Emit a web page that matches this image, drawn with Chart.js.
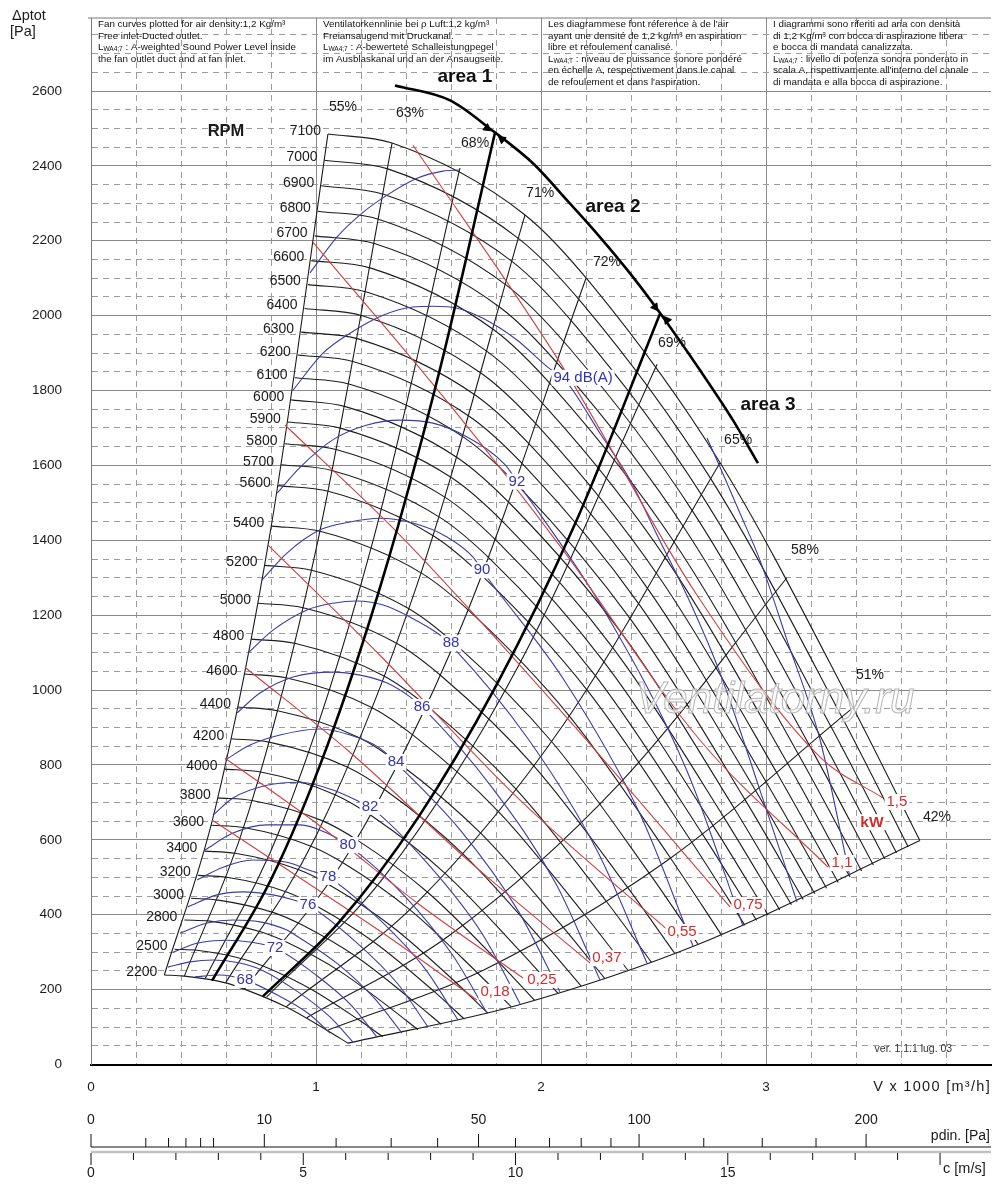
<!DOCTYPE html>
<html lang="en">
<head>
<meta charset="utf-8">
<title>Fan curves</title>
<script src="https://cdn.jsdelivr.net/npm/chart.js@4.4.1/dist/chart.umd.min.js"></script>
<style>
  html, body { margin: 0; padding: 0; background: #fff; }
  canvas { display: block; }
</style>
</head>
<body>
<canvas id="fanChart" width="1000" height="1199"></canvas>
<script>
const FONT = '"Liberation Sans", Arial, Helvetica, sans-serif';

// fan speed curves, points are [V x 1000 m3/h, dp Pa]
const rpmSpeeds = [7100, 7000, 6900, 6800, 6700, 6600, 6500, 6400, 6300, 6200, 6100, 6000, 5900, 5800, 5700, 5600,
  5400, 5200, 5000, 4800, 4600, 4400, 4200, 4000, 3800, 3600, 3400, 3200, 3000, 2800, 2500, 2200];
const rpmCurves = [
  [[1.053,2485],[1.338,2461],[1.929,2269],[2.218,2088],[2.796,1607],[3.387,953],[3.684,598]],
  [[1.038,2415],[1.319,2392],[1.902,2205],[2.187,2030],[2.757,1562],[3.339,926],[3.632,581]],
  [[1.023,2347],[1.300,2324],[1.875,2143],[2.155,1972],[2.717,1518],[3.291,900],[3.580,565]],
  [[1.008,2279],[1.281,2257],[1.847,2081],[2.124,1915],[2.678,1474],[3.244,874],[3.528,549]],
  [[0.994,2213],[1.263,2192],[1.820,2021],[2.093,1859],[2.639,1431],[3.196,849],[3.477,533]],
  [[0.979,2147],[1.244,2127],[1.793,1961],[2.062,1804],[2.599,1389],[3.149,823],[3.425,517]],
  [[0.964,2083],[1.225,2063],[1.766,1902],[2.031,1750],[2.560,1347],[3.101,799],[3.373,501]],
  [[0.949,2019],[1.206,2000],[1.739,1844],[1.999,1697],[2.520,1306],[3.053,774],[3.321,486]],
  [[0.934,1956],[1.187,1938],[1.712,1786],[1.968,1644],[2.481,1265],[3.005,750],[3.269,471]],
  [[0.919,1895],[1.168,1877],[1.684,1730],[1.937,1592],[2.441,1225],[2.958,727],[3.217,456]],
  [[0.905,1834],[1.150,1817],[1.657,1675],[1.906,1541],[2.402,1186],[2.910,704],[3.165,441]],
  [[0.890,1775],[1.131,1757],[1.630,1620],[1.874,1491],[2.363,1148],[2.862,681],[3.113,427]],
  [[0.875,1716],[1.112,1699],[1.603,1567],[1.843,1442],[2.323,1110],[2.815,658],[3.061,413]],
  [[0.860,1658],[1.093,1642],[1.576,1514],[1.812,1393],[2.284,1072],[2.767,636],[3.009,399]],
  [[0.845,1602],[1.074,1586],[1.549,1462],[1.781,1346],[2.245,1036],[2.719,614],[2.958,385]],
  [[0.830,1546],[1.055,1531],[1.521,1412],[1.749,1299],[2.205,1000],[2.671,593],[2.906,372]],
  [[0.801,1438],[1.018,1424],[1.467,1313],[1.687,1208],[2.127,930],[2.576,551],[2.802,346]],
  [[0.771,1333],[0.980,1320],[1.413,1217],[1.624,1120],[2.048,862],[2.481,511],[2.698,321]],
  [[0.742,1232],[0.942,1220],[1.358,1125],[1.562,1035],[1.969,797],[2.385,473],[2.594,297]],
  [[0.712,1136],[0.905,1125],[1.304,1037],[1.500,954],[1.890,735],[2.290,436],[2.491,273]],
  [[0.682,1043],[0.867,1033],[1.250,953],[1.437,877],[1.812,675],[2.194,400],[2.387,251]],
  [[0.653,955],[0.829,945],[1.195,872],[1.374,802],[1.733,617],[2.099,366],[2.283,230]],
  [[0.623,870],[0.791,861],[1.141,794],[1.312,731],[1.654,562],[2.003,333],[2.179,209]],
  [[0.593,789],[0.754,781],[1.087,720],[1.250,663],[1.575,510],[1.908,302],[2.076,190]],
  [[0.564,712],[0.716,705],[1.032,650],[1.187,598],[1.496,460],[1.813,273],[1.972,171]],
  [[0.534,639],[0.678,633],[0.978,583],[1.125,537],[1.418,413],[1.717,245],[1.868,154]],
  [[0.504,570],[0.641,564],[0.924,520],[1.062,479],[1.339,368],[1.622,219],[1.764,137]],
  [[0.475,505],[0.603,500],[0.869,461],[1.000,424],[1.260,326],[1.527,194],[1.660,121]],
  [[0.445,444],[0.565,439],[0.815,405],[0.937,373],[1.181,287],[1.431,170],[1.557,107]],
  [[0.415,386],[0.528,383],[0.761,353],[0.875,325],[1.103,250],[1.336,148],[1.453,93]],
  [[0.371,308],[0.471,305],[0.679,281],[0.781,259],[0.984,199],[1.193,118],[1.297,74]],
  [[0.326,239],[0.415,236],[0.598,218],[0.687,200],[0.866,154],[1.050,91],[1.142,57]]
];

// efficiency lines
const effNames = ['55%', '63%', '68%', '71%', '72%', '69%', '65%', '58%', '51%', '42%'];
const effCurves = [
  [[0.326,239],[0.55,678],[0.80,1434],[1.053,2485]],
  [[0.415,236],[0.70,674],[1.00,1375],[1.338,2461]],
  [[0.508,230],[0.85,643],[1.25,1391],[1.640,2395]],
  [[0.598,218],[1.00,610],[1.45,1283],[1.929,2269]],
  [[0.680,200],[1.15,571],[1.65,1176],[2.200,2100]],
  [[0.780,180],[1.30,499],[1.90,1065],[2.516,1870]],
  [[0.867,154],[1.45,433],[2.10,908],[2.796,1607]],
  [[0.959,125],[1.60,348],[2.35,751],[3.093,1300]],
  [[1.050,91],[1.75,254],[2.55,540],[3.387,953]],
  [[1.142,57],[1.90,159],[2.70,321],[3.684,598]]
];
const effNameAt = [[1.120,2557],[1.418,2541],[1.707,2460],[1.996,2327],[2.293,2143],
  [2.582,1926],[2.876,1667],[3.173,1374],[3.462,1040],[3.760,661]];

// working areas
const areaEdge1 = [[0.538,224],[0.80,494],[1.05,851],[1.30,1305],[1.55,1855],[1.796,2490]];
const areaEdge2 = [[0.764,182],[1.10,378],[1.45,656],[1.80,1011],[2.15,1442],[2.529,2005]];
const areaArc = [[1.351,2615],[1.596,2575],[1.787,2493],[1.964,2407],[2.116,2308],[2.262,2210],
  [2.409,2103],[2.529,2007],[2.707,1854],[2.853,1721],[2.964,1606]];
const arcArrows = [[1.760,2501],[1.827,2471],[2.507,2023],[2.560,1988]];
const areaNames = ['area 1', 'area 2', 'area 3'];
const areaNameAt = [[1.662,2637],[2.320,2290],[3.009,1762]];

// sound power level lines, dB(A)
const soundLevels = [96, 96, 94, 92, 90, 88, 86, 84, 82, 80, 78, 76, 74, 72, 70, 68];
const soundCurves = [
  [[0.973,2114],[1.093,2210],[1.209,2276],[1.316,2322],[1.449,2367],[1.564,2386],[1.640,2389]],
  [[2.738,1673],[2.796,1595],[2.884,1473],[2.973,1347],[3.093,1134],[3.240,868],[3.373,501]],
  [[0.898,1801],[1.031,1900],[1.151,1953],[1.298,2001],[1.431,2023],[1.520,2025],[1.627,2020],[1.742,1993],
   [1.893,1935],[2.031,1862],[2.107,1828],[2.262,1686],[2.396,1561],[2.520,1409],[2.662,1235],[2.796,1045],
   [2.973,733],[3.138,434]],
  [[0.827,1526],[0.929,1595],[1.076,1669],[1.227,1708],[1.373,1721],[1.520,1713],[1.671,1676],[1.840,1602],
   [1.893,1557],[2.293,1200],[2.649,784],[2.898,370]],
  [[0.760,1294],[0.871,1366],[1.018,1428],[1.151,1449],[1.284,1459],[1.431,1446],[1.582,1409],[1.698,1355],
   [1.738,1320],[2.111,1019],[2.440,669],[2.676,316]],
  [[0.698,1099],[0.809,1160],[0.960,1214],[1.076,1232],[1.182,1238],[1.298,1227],[1.418,1195],[1.551,1147],
   [1.600,1120],[1.947,866],[2.253,567],[2.471,271]],
  [[0.649,939],[0.751,992],[0.898,1035],[1.076,1048],[1.196,1040],[1.316,1019],[1.418,982],[1.471,955],
   [1.787,736],[2.067,482],[2.262,226]],
  [[0.596,813],[0.707,853],[0.840,880],[1.018,896],[1.151,880],[1.284,845],[1.351,808],[1.644,624],
   [1.902,407],[2.084,194]],
  [[0.542,666],[0.631,712],[0.782,746],[0.929,754],[1.076,733],[1.196,701],[1.240,688],[1.507,529],
   [1.742,346],[1.907,162]],
  [[0.507,573],[0.631,618],[0.782,640],[0.929,640],[1.049,618],[1.142,586],[1.391,452],[1.604,295],[1.760,138]],
  [[0.471,493],[0.587,527],[0.720,546],[0.871,540],[0.973,518],[1.053,501],[1.284,386],[1.489,252],[1.631,119]],
  [[0.431,421],[0.560,453],[0.676,461],[0.809,453],[0.898,440],[0.964,426],[1.178,327],[1.364,215],[1.498,100]],
  [[0.396,351],[0.516,378],[0.631,386],[0.751,381],[0.871,359],[0.907,346],[1.098,268],[1.262,175],[1.382,84]],
  [[0.364,300],[0.471,324],[0.604,332],[0.707,327],[0.818,311],[1.000,239],[1.160,156],[1.271,73]],
  [[0.342,260],[0.440,274],[0.542,279],[0.662,271],[0.760,252],[0.920,194],[1.062,127],[1.164,60]],
  [[0.462,234],[0.573,239],[0.684,226],[0.836,183],[0.969,135],[1.062,84]]
];
const soundTags = ['94 dB(A)', '92', '90', '88', '86', '84', '82', '80', '78', '76', '72', '68'];
const soundTagAt = [[2.187,1834],[1.893,1557],[1.738,1320],[1.600,1125],[1.471,955],[1.356,808],
  [1.240,688],[1.142,586],[1.053,501],[0.964,426],[0.818,311],[0.684,226]];

// absorbed power lines, kW
const powerTags = ['0,18', '0,25', '0,37', '0,55', '0,75', '1,1', '1,5'];
const powerCurves = [
  [[0.538,653],[0.929,498],[1.329,338],[1.716,172]],
  [[0.596,818],[1.018,637],[1.462,426],[1.920,231]],
  [[0.684,1061],[1.151,834],[1.684,541],[2.218,271]],
  [[0.787,1387],[1.284,1093],[1.907,706],[2.573,354]],
  [[0.862,1708],[1.373,1414],[2.084,947],[2.840,421]],
  [[0.987,2196],[1.596,1761],[2.098,1374],[2.707,866],[3.276,527]],
  [[1.431,2455],[2.098,1862],[2.693,1254],[3.240,821],[3.520,712]]
];
const powerTagAt = [[1.796,194],[2.004,226],[2.293,284],[2.627,354],[2.920,426],[3.338,538],[3.582,701]];

// lower scales: dynamic pressure and outlet velocity
const pdinMajor = [0, 10, 50, 100, 200];
const pdinMinor = [1, 2, 3, 4, 5, 20, 30, 40, 60, 70, 80, 90, 125, 150, 175];
const speedMajor = [0, 5, 10, 15, 20];
const speedLabels = [0, 5, 10, 15];
const airDensity = 1.2;

const headerCols = [
  ['Fan curves plotted for air density:1,2 Kg/m³', 'Free inlet-Ducted outlet.',
   'L_{WA4;7} : A-weighted Sound Power Level inside', 'the fan outlet duct and at fan inlet.'],
  ['Ventilatorkennlinie bei ρ Luft:1,2 kg/m³', 'Freiansaugend mit Druckanal.',
   'L_{WA4;7} : A-bewertete Schalleistungpegel', 'im Ausblaskanal und an der Ansaugseite.'],
  ['Les diagrammese font réference à de l\'air', 'ayant une densité de 1,2 kg/m³ en aspiration',
   'libre et refoulement canalisé.', 'L_{WA4;T} : niveau de puissance sonore pondéré',
   'en échelle A, respectivement dans le canal', 'de refoulement et dans l\'aspiration.'],
  ['I diagrammi sono riferiti ad aria con densità', 'di 1,2 Kg/m³ con bocca di aspirazione libera',
   'e bocca di mandata canalizzata.', 'L_{WA4;7} : livello di potenza sonora ponderato in',
   'scala A, rispettivamente all\'interno del canale', 'di mandata e alla bocca di aspirazione.']
];

const isWhole = v => v !== undefined && Math.abs(v - Math.round(v)) < 1e-6;
const isMajorY = v => v !== undefined && Math.abs(v / 200 - Math.round(v / 200)) < 1e-6;
const speedOf = p => Math.sqrt(2 * p / airDensity);

function line(pts, color, width, order) {
  return {
    data: pts.map(([x, y]) => ({ x, y })),
    showLine: true,
    borderColor: color,
    borderWidth: width,
    pointRadius: 0,
    fill: false,
    cubicInterpolationMode: 'monotone',
    order: order
  };
}

const datasets = [];
rpmCurves.forEach(c => datasets.push(line(c, '#1c1c1c', 1.1, 6)));
effCurves.forEach(c => datasets.push(line(c, '#1c1c1c', 1.1, 5)));
soundCurves.forEach(c => datasets.push(line(c, '#3b3ba8', 1.1, 4)));
powerCurves.forEach(c => datasets.push(line(c, '#d04040', 1.1, 3)));
[areaEdge1, areaEdge2, areaArc].forEach(c => datasets.push(line(c, '#000', 2.6, 2)));
datasets.push({
  data: arcArrows.map(([x, y]) => ({ x, y })),
  showLine: false,
  pointStyle: 'triangle',
  pointRadius: 4.5,
  pointRotation: [127, 307, 144, 324],
  pointBackgroundColor: '#000',
  pointBorderColor: '#000',
  pointBorderWidth: 1,
  order: 1
});

function tag(ctx, text, x, y, color, font, boxed, align) {
  ctx.font = font;
  ctx.textAlign = align || 'center';
  ctx.textBaseline = 'middle';
  if (boxed) {
    const w = ctx.measureText(text).width;
    const left = align === 'left' ? x : (align === 'right' ? x - w : x - w / 2);
    ctx.fillStyle = '#fff';
    ctx.fillRect(left - 2, y - 8, w + 4, 16);
  }
  ctx.fillStyle = color;
  ctx.fillText(text, x, y);
}

// header line with an optional subscript part written as _{...}
function richLine(ctx, text, x, y) {
  const parts = text.split(/_\{([^}]*)\}/);
  let cx = x;
  parts.forEach((t, i) => {
    const sub = i % 2 === 1;
    ctx.font = (sub ? '6.5px ' : '9.8px ') + FONT;
    ctx.fillText(t, cx, y + (sub ? 2 : 0));
    cx += ctx.measureText(t).width;
  });
}

// keep the plot frame exactly where the axes put it
function noPad(s) {
  s.paddingTop = 0; s.paddingBottom = 0; s.paddingLeft = 0; s.paddingRight = 0;
}

const chartText = {
  id: 'chartText',
  afterDatasetsDraw(chart) {
    const { ctx, scales: { x, y } } = chart;
    const X = v => x.getPixelForValue(v);
    const Y = p => y.getPixelForValue(p);
    ctx.save();

    // watermark
    ctx.font = 'italic 44px ' + FONT;
    ctx.textAlign = 'center';
    ctx.textBaseline = 'middle';
    ctx.fillStyle = 'rgba(255,255,255,0.7)';
    ctx.fillText('Ventilatorny.ru', X(3.04), Y(972));
    ctx.strokeStyle = '#b4b4b4';
    ctx.lineWidth = 1;
    ctx.strokeText('Ventilatorny.ru', X(3.04), Y(972));

    rpmCurves.forEach((c, i) => {
      tag(ctx, String(rpmSpeeds[i]), X(c[0][0]) - 7, Y(c[0][1]) - 3, '#1a1a1a', '14px ' + FONT, false, 'right');
    });
    tag(ctx, 'RPM', X(0.600), Y(2492), '#1a1a1a', 'bold 16.5px ' + FONT, false);

    effNames.forEach((t, i) => {
      tag(ctx, t, X(effNameAt[i][0]), Y(effNameAt[i][1]), '#1a1a1a', '14px ' + FONT, false);
    });
    areaNames.forEach((t, i) => {
      tag(ctx, t, X(areaNameAt[i][0]), Y(areaNameAt[i][1]), '#111', 'bold 19px ' + FONT, false);
    });
    soundTags.forEach((t, i) => {
      tag(ctx, t, X(soundTagAt[i][0]), Y(soundTagAt[i][1]), '#3434b4', '15px ' + FONT, true);
    });
    powerTags.forEach((t, i) => {
      tag(ctx, t, X(powerTagAt[i][0]), Y(powerTagAt[i][1]), '#d42c2c', '15px ' + FONT, true);
    });
    tag(ctx, 'kW', X(3.471), Y(647), '#d42c2c', 'bold 15.5px ' + FONT, true);
    tag(ctx, 'ver. 1.1.1 lug. 03', X(3.655), Y(41), '#333', '10.5px ' + FONT, false);
    ctx.restore();
  },
  afterDraw(chart) {
    const { ctx, chartArea, scales: { x, xc } } = chart;
    const L = chartArea.left, R = chartArea.right, T = chartArea.top, B = chartArea.bottom;
    ctx.save();

    // frame line on top of the header
    ctx.strokeStyle = '#777';
    ctx.lineWidth = 1;
    ctx.beginPath(); ctx.moveTo(L - 3, T); ctx.lineTo(R, T); ctx.stroke();

    // header notes
    ctx.fillStyle = '#111';
    ctx.textAlign = 'left';
    ctx.textBaseline = 'middle';
    headerCols.forEach((col, ci) => {
      col.forEach((t, li) => richLine(ctx, t, x.getPixelForValue(ci) + 7, T + 6.3 + li * 11.6));
    });

    // axis titles
    tag(ctx, '\u0394ptot', 12, 16, '#1a1a1a', '14.5px ' + FONT, false, 'left');
    tag(ctx, '[Pa]', 10, 32, '#1a1a1a', '14.5px ' + FONT, false, 'left');
    ctx.save();
    ctx.font = '14.5px ' + FONT;
    ctx.letterSpacing = '1.3px';
    ctx.fillStyle = '#1a1a1a';
    ctx.textAlign = 'right';
    ctx.fillText('V x 1000 [m³/h]', R, B + 22.5);
    ctx.restore();

    // dynamic pressure scale
    const pBase = B + 82.5;
    ctx.strokeStyle = '#111';
    ctx.lineWidth = 1;
    ctx.beginPath(); ctx.moveTo(L, pBase); ctx.lineTo(R, pBase); ctx.stroke();
    pdinMajor.forEach(p => {
      const px = xc.getPixelForValue(speedOf(p));
      ctx.beginPath(); ctx.moveTo(px, pBase - 13); ctx.lineTo(px, pBase); ctx.stroke();
      tag(ctx, String(p), px, pBase - 27, '#1a1a1a', '14px ' + FONT, false);
    });
    pdinMinor.forEach(p => {
      const px = xc.getPixelForValue(speedOf(p));
      ctx.beginPath(); ctx.moveTo(px, pBase - 9); ctx.lineTo(px, pBase); ctx.stroke();
    });
    tag(ctx, 'pdin. [Pa]', R - 1, pBase - 11, '#1a1a1a', '14px ' + FONT, false, 'right');

    // velocity scale
    const cBase = pBase + 6;
    ctx.strokeStyle = '#c2c2c2';
    ctx.lineWidth = 2.5;
    ctx.beginPath(); ctx.moveTo(L, cBase - 1); ctx.lineTo(R, cBase - 1); ctx.stroke();
    ctx.strokeStyle = '#111';
    ctx.lineWidth = 1;
    for (let c = 0; c <= 20; c++) {
      const px = xc.getPixelForValue(c);
      const major = speedMajor.includes(c);
      ctx.beginPath(); ctx.moveTo(px, cBase); ctx.lineTo(px, cBase + (major ? 12 : 7)); ctx.stroke();
    }
    speedLabels.forEach(c => {
      tag(ctx, String(c), xc.getPixelForValue(c), cBase + 20, '#1a1a1a', '14px ' + FONT, false);
    });
    tag(ctx, 'c [m/s]', xc.getPixelForValue(20) + 3, cBase + 16, '#1a1a1a', '14.5px ' + FONT, false, 'left');
    ctx.restore();
  }
};

const ctx = document.getElementById('fanChart').getContext('2d');
const fanChart = new Chart(ctx, {
  type: 'scatter',
  data: { datasets },
  options: {
    responsive: false,
    animation: false,
    events: [],
    layout: { padding: { top: 18, right: 9, left: 0, bottom: 0 } },
    plugins: { legend: { display: false }, tooltip: { enabled: false } },
    scales: {
      x: {
        type: 'linear', position: 'bottom', min: 0, max: 4,
        ticks: {
          stepSize: 0.2, autoSkip: false, maxRotation: 0, padding: 15, color: '#1a1a1a',
          font: { family: FONT, size: 13.5 },
          callback: v => (isWhole(v) && v < 3.5 ? String(Math.round(v)) : '')
        },
        grid: {
          color: c => {
            const v = c.tick ? c.tick.value : undefined;
            if (v !== undefined && v > 3.99) return 'rgba(0,0,0,0)';
            return isWhole(v) ? '#8a8a8a' : '#9c9c9c';
          },
          lineWidth: 1,
          drawTicks: false
        },
        border: { display: true, color: '#000', width: 2,
          dash: c => (c.tick && !isWhole(c.tick.value) ? [6, 5] : []) },
        afterFit: s => { s.height = 134.5; noPad(s); }
      },
      xc: { type: 'linear', display: false, position: 'bottom', min: 0, max: 21.2 },
      y: {
        type: 'linear', position: 'left', min: 0, max: 2795,
        ticks: {
          stepSize: 50, autoSkip: false, includeBounds: false, padding: 29, color: '#1a1a1a',
          font: { family: FONT, size: 13.5 },
          callback: v => (isMajorY(v) && v <= 2600 ? String(v) : '')
        },
        grid: {
          color: c => (isMajorY(c.tick ? c.tick.value : undefined) ? '#8a8a8a' : '#9c9c9c'),
          lineWidth: 1,
          drawTicks: false
        },
        border: { display: true, color: '#7a7a7a', width: 1,
          dash: c => (c.tick && !isMajorY(c.tick.value) ? [6, 5] : []) },
        afterFit: s => { s.width = 91; noPad(s); }
      }
    }
  },
  plugins: [chartText]
});
</script>
</body>
</html>
